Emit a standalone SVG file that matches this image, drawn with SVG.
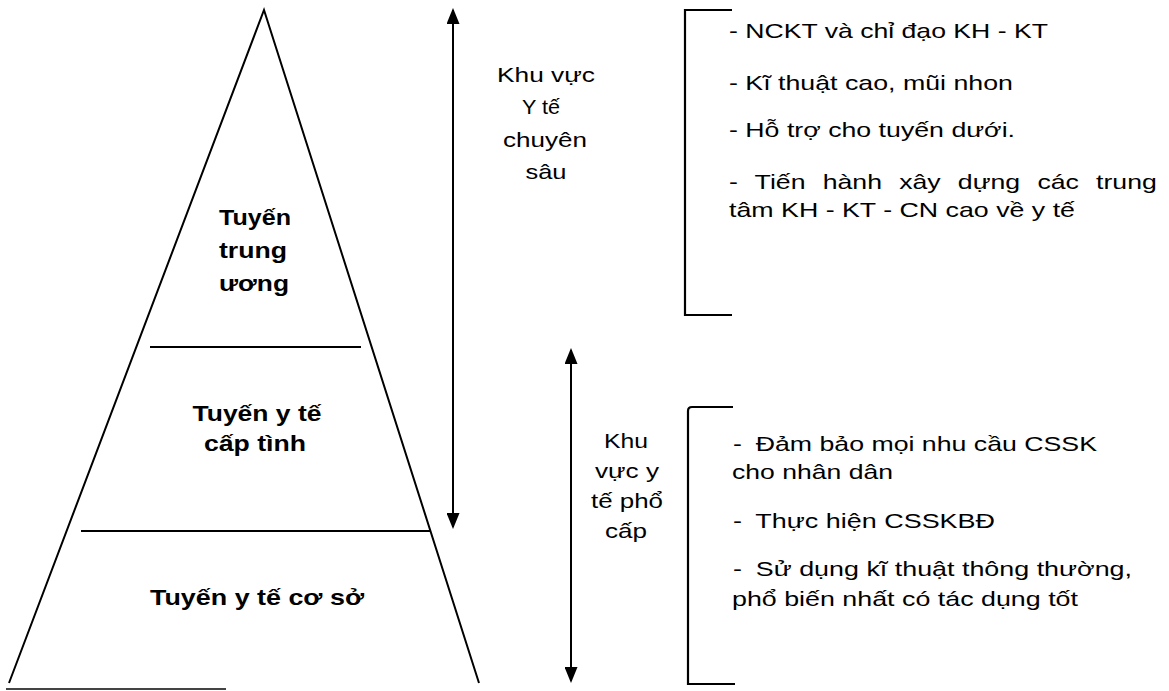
<svg xmlns="http://www.w3.org/2000/svg" width="1169" height="691" viewBox="0 0 1169 691">
  <style>
    .ln { stroke: #000; stroke-width: 2; fill: none; }
    .br { stroke: #000; stroke-width: 2.2; fill: none; }
    .t { font-family: "Liberation Sans", Arial, sans-serif; font-size: 21px; fill: #000; }
    .b { font-family: "Liberation Sans", Arial, sans-serif; font-size: 22px; font-weight: bold; fill: #000; text-anchor: middle; }
    .c { text-anchor: middle; }
  </style>
  <defs>
    <marker id="head" viewBox="0 0 16 13" refX="14" refY="6.5" markerWidth="16" markerHeight="13" markerUnits="userSpaceOnUse" orient="auto-start-reverse">
      <path d="M0,0 L16,6.5 L0,13 Z" fill="#000"/>
    </marker>
  </defs>
  <rect width="1169" height="691" fill="#fff"/>

  <!-- pyramid outline and level dividers -->
  <g id="pyramid">
    <polyline class="ln" points="9,683 264,10 479,683"/>
    <line class="ln" x1="150" y1="347" x2="361" y2="347"/>
    <line class="ln" x1="81" y1="531" x2="431" y2="531"/>
    <line x1="6" y1="689" x2="226" y2="689" stroke="#444" stroke-width="2"/>
  </g>

  <g id="level-central">
    <text class="b" x="255" y="225" textLength="72" lengthAdjust="spacingAndGlyphs">Tuyến</text>
    <text class="b" x="253" y="258" textLength="68" lengthAdjust="spacingAndGlyphs">trung</text>
    <text class="b" x="254" y="291" textLength="70" lengthAdjust="spacingAndGlyphs">ương</text>
  </g>

  <g id="level-province">
    <text class="b" x="257" y="421" textLength="129" lengthAdjust="spacingAndGlyphs">Tuyến y tế</text>
    <text class="b" x="255" y="451" textLength="102" lengthAdjust="spacingAndGlyphs">cấp tình</text>
  </g>

  <g id="level-base">
    <text class="b" x="257" y="605" textLength="214" lengthAdjust="spacingAndGlyphs">Tuyến y tế cơ sở</text>
  </g>

  <!-- range arrows -->
  <g id="connectors">
    <line class="ln" x1="453" y1="10" x2="453" y2="527" marker-start="url(#head)" marker-end="url(#head)"/>
    <line class="ln" x1="571" y1="350" x2="571" y2="681" marker-start="url(#head)" marker-end="url(#head)"/>
  </g>

  <g id="zone-specialised">
    <text class="t c" x="546" y="82" textLength="98" lengthAdjust="spacingAndGlyphs">Khu vực</text>
    <text class="t c" x="541" y="114" textLength="38" lengthAdjust="spacingAndGlyphs">Y tế</text>
    <text class="t c" x="545" y="147" textLength="84" lengthAdjust="spacingAndGlyphs">chuyên</text>
    <text class="t c" x="546" y="179" textLength="41" lengthAdjust="spacingAndGlyphs">sâu</text>
  </g>

  <g id="zone-general">
    <text class="t c" x="626" y="448" textLength="44" lengthAdjust="spacingAndGlyphs">Khu</text>
    <text class="t c" x="627" y="478" textLength="64" lengthAdjust="spacingAndGlyphs">vực y</text>
    <text class="t c" x="627" y="508" textLength="72" lengthAdjust="spacingAndGlyphs">tế phổ</text>
    <text class="t c" x="626" y="538" textLength="42" lengthAdjust="spacingAndGlyphs">cấp</text>
  </g>

  <g id="tasks-specialised">
    <path class="br" d="M732,10 H685 V315 H732"/>
    <text class="t" x="729" y="38" textLength="319" lengthAdjust="spacingAndGlyphs">- NCKT và chỉ đạo KH - KT</text>
    <text class="t" x="729" y="90" textLength="284" lengthAdjust="spacingAndGlyphs">- Kĩ thuật cao, mũi nhon</text>
    <text class="t" x="729" y="137" textLength="286" lengthAdjust="spacingAndGlyphs">- Hỗ trợ cho tuyến dưới.</text>
    <text class="t" transform="translate(729 189) scale(1.27 1)" word-spacing="7.7">- Tiến hành xây dựng các trung</text>
    <text class="t" x="729" y="217" textLength="346" lengthAdjust="spacingAndGlyphs">tâm KH - KT - CN cao về y tế</text>
  </g>

  <g id="tasks-general">
    <path class="br" d="M733,407 H692 Q688,407 688,411 V684 H735"/>
    <text class="t" x="733" y="451" textLength="364" lengthAdjust="spacingAndGlyphs">- <tspan dx="5">Đảm bảo mọi nhu cầu CSSK</tspan></text>
    <text class="t" x="732" y="479" textLength="161" lengthAdjust="spacingAndGlyphs">cho nhân dân</text>
    <text class="t" x="733" y="528" textLength="262" lengthAdjust="spacingAndGlyphs">- <tspan dx="5">Thực hiện CSSKBĐ</tspan></text>
    <text class="t" x="733" y="576" textLength="399" lengthAdjust="spacingAndGlyphs">- <tspan dx="5">Sử dụng kĩ thuật thông thường,</tspan></text>
    <text class="t" x="732" y="606" textLength="346" lengthAdjust="spacingAndGlyphs">phổ biến nhất có tác dụng tốt</text>
  </g>
</svg>
